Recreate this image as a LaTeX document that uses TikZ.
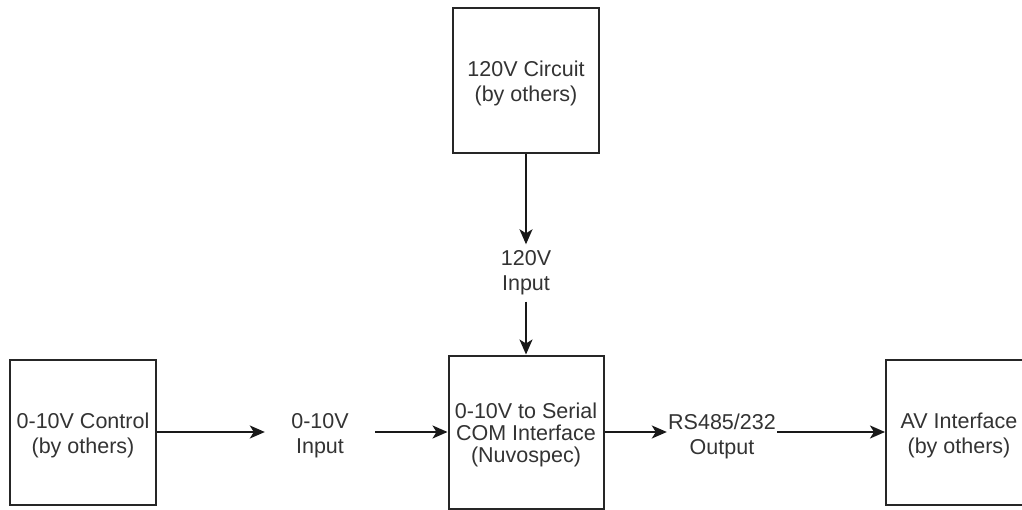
\documentclass[tikz,border=0pt]{standalone}
\usepackage{fontspec}
\setmainfont{Liberation Sans}
\usetikzlibrary{arrows.meta}
\begin{document}
\begin{tikzpicture}[x=1pt,y=-1pt,
  every node/.style={font=\fontsize{21.5}{25}\selectfont, text=black!80, align=center},
  blockbox/.style={draw=black!85, line width=2pt, fill=white, inner sep=0pt},
  boxtext/.style={inner sep=0pt},
  lbl/.style={inner sep=0pt, minimum width=110pt},
  conn/.style={draw=black!90, line width=2pt, -{Stealth[length=15pt,width=13pt,inset=4pt]}}]
\useasboundingbox[fill=white] (0,0) rectangle (1022,510);
% boxes
\node[blockbox, minimum width=146pt, minimum height=145pt] (circuit) at (526,80.5) {};
\node[blockbox, minimum width=155pt, minimum height=153pt] (iface) at (526,432) {};
\node[blockbox, minimum width=146pt, minimum height=145pt] (control) at (83,432) {};
\node[blockbox, minimum width=146pt, minimum height=145pt] (av) at (959,432) {};
% box texts
\node[boxtext] (circuittext) at ([yshift=-3pt]circuit.center) {120V Circuit\\(by others)};
\node[boxtext, font=\fontsize{21.5}{22}\selectfont] (ifacetext) at ([yshift=-3pt]iface.center) {0-10V to Serial\\COM Interface\\(Nuvospec)};
\node[boxtext] (controltext) at ([yshift=-3pt]control.center) {0-10V Control\\(by others)};
\node[boxtext] (avtext) at ([yshift=-3pt]av.center) {AV Interface\\(by others)};
% connector labels
\node[lbl, minimum height=57pt] (vin) at (526,273) {120V\\Input};
\node[lbl] (ctlin) at (320,436) {0-10V\\Input};
\node[lbl] (rsout) at (722,436) {RS485/232\\Output};
% connectors
\draw[conn] (circuit.south) -- (vin.north);
\draw[conn] (vin.south) -- (iface.north);
\draw[conn] (control.east) -- (ctlin.west |- control.east);
\draw[conn] (ctlin.east |- iface.west) -- (iface.west);
\draw[conn] (iface.east) -- (rsout.west |- iface.east);
\draw[conn] (rsout.east |- av.west) -- (av.west);
\end{tikzpicture}
\end{document}
